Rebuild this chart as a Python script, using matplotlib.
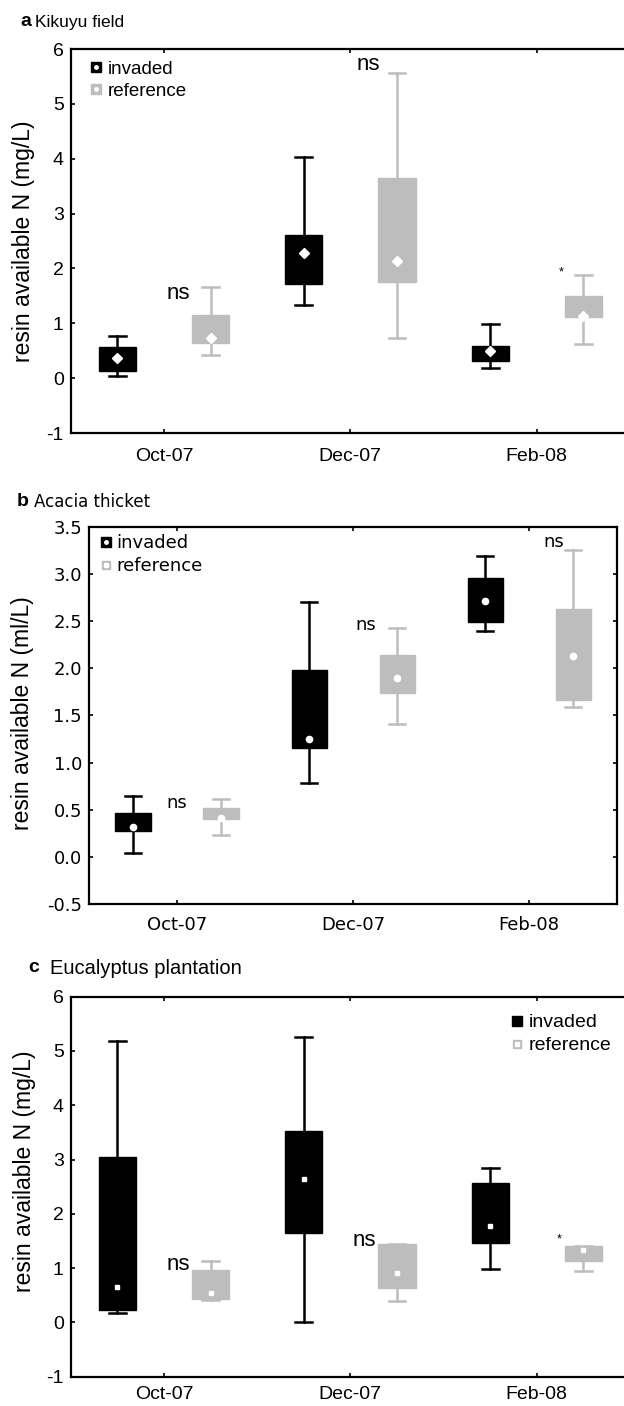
import numpy as np
import matplotlib
matplotlib.use("Agg")
import matplotlib.pyplot as plt
from matplotlib.lines import Line2D
from matplotlib.legend_handler import HandlerTuple

plt.rcParams['axes.unicode_minus'] = False

categories = ['Oct-07', 'Dec-07', 'Feb-08']

# Panel a: Kikuyu field
a_inv_lo = [0.03, 1.33, 0.18]
a_inv_q1 = [0.13, 1.72, 0.31]
a_inv_dot = [0.36, 2.28, 0.50]
a_inv_q3 = [0.56, 2.61, 0.59]
a_inv_hi = [0.76, 4.04, 0.98]
a_ref_lo = [0.43, 0.73, 0.62]
a_ref_q1 = [0.64, 1.76, 1.11]
a_ref_dot = [0.73, 2.14, 1.13]
a_ref_q3 = [1.16, 3.65, 1.49]
a_ref_hi = [1.66, 5.56, 1.88]
a_sig = ['ns', 'ns', '*']
a_sig_y = [1.54, 5.71, 1.93]
a_yticks = [-1, 0, 1, 2, 3, 4, 5, 6]

# Panel b: Acacia thicket
b_inv_lo = [0.04, 0.78, 2.39]
b_inv_q1 = [0.27, 1.15, 2.49]
b_inv_dot = [0.32, 1.25, 2.71]
b_inv_q3 = [0.47, 1.98, 2.96]
b_inv_hi = [0.65, 2.70, 3.19]
b_ref_lo = [0.23, 1.41, 1.59]
b_ref_q1 = [0.40, 1.74, 1.66]
b_ref_dot = [0.41, 1.90, 2.13]
b_ref_q3 = [0.52, 2.14, 2.63]
b_ref_hi = [0.61, 2.43, 3.25]
b_sig = ['ns', 'ns', 'ns']
b_sig_y = [0.57, 2.46, 3.34]
b_yticks = [-0.5, 0.0, 0.5, 1.0, 1.5, 2.0, 2.5, 3.0, 3.5]

# Panel c: Eucalyptus plantation
c_inv_lo = [0.17, 0.00, 0.98]
c_inv_q1 = [0.23, 1.65, 1.46]
c_inv_dot = [0.65, 2.65, 1.78]
c_inv_q3 = [3.04, 3.52, 2.57]
c_inv_hi = [5.19, 5.26, 2.85]
c_ref_lo = [0.41, 0.39, 0.95]
c_ref_q1 = [0.44, 0.63, 1.14]
c_ref_dot = [0.55, 0.91, 1.34]
c_ref_q3 = [0.96, 1.45, 1.41]
c_ref_hi = [1.14, 1.45, 1.41]
c_sig = ['ns', 'ns', '*']
c_sig_y = [1.06, 1.50, 1.52]
c_yticks = [-1, 0, 1, 2, 3, 4, 5, 6]

BLACK = '#000000'
GRAY = '#bdbdbd'
W, H = 624, 1406

fig = plt.figure(figsize=(W / 100, H / 100), dpi=100)


def axes_px(left, top, right, bottom):
    return fig.add_axes([left / W, 1 - bottom / H, (right - left) / W, (bottom - top) / H])


def draw_group(ax, pos, lo, q1, dot, q3, hi, color, ms, marker):
    stats = [dict(whislo=lo[i], q1=q1[i], med=dot[i], q3=q3[i], whishi=hi[i], fliers=[])
             for i in range(len(lo))]
    ax.bxp(stats, positions=pos, widths=0.2, capwidths=0.09, patch_artist=True,
           showfliers=False, manage_ticks=False,
           boxprops=dict(facecolor=color, edgecolor=color, linewidth=1),
           whiskerprops=dict(color=color, linewidth=1.8),
           capprops=dict(color=color, linewidth=1.8),
           medianprops=dict(visible=False))
    ax.plot(pos, dot, ls='none', marker=marker, ms=ms, mfc='white', mec='white', zorder=5)


def setup(ax, yticks, ylim, tickfont, ticksize, ylabels, xpad):
    x = np.arange(len(categories))
    ax.set_xlim(-0.5, 2.5)
    ax.set_ylim(*ylim)
    ax.set_xticks(x)
    ax.set_xticklabels(categories, fontsize=ticksize, family=tickfont)
    ax.set_yticks(yticks)
    ax.set_yticklabels(ylabels, fontsize=ticksize, family=tickfont)
    ax.tick_params(direction='in', length=3, width=1.2, top=True, right=True)
    ax.tick_params(axis='x', pad=xpad)
    ax.tick_params(axis='y', pad=5)
    for s in ax.spines.values():
        s.set_linewidth(1.6)


def panel(ax, inv, ref, sig, sig_y, sig_dx, sigfont, sigsize, ms, marker):
    x = np.arange(len(categories))
    draw_group(ax, x - 0.25, *inv, BLACK, ms, marker)
    draw_group(ax, x + 0.25, *ref, GRAY, ms, marker)
    for i in range(len(sig)):
        fs = sigsize if sig[i] == 'ns' else 9
        ax.text(x[i] + sig_dx[i], sig_y[i], sig[i], ha='center', va='center',
                fontsize=fs, family=sigfont)


def handle(color, size, inner_marker):
    sq = Line2D([], [], ls='none', marker='s', ms=size, mfc=color, mec=color)
    if inner_marker is None:
        return sq
    dot = Line2D([], [], ls='none', marker=inner_marker, ms=2.5, mfc='white', mec='white')
    return (sq, dot)


def add_legend(ax, handles, anchor, font, size):
    ax.legend(handles, ['invaded', 'reference'], handler_map={tuple: HandlerTuple(ndivide=1, pad=0)},
              loc='upper left', bbox_to_anchor=anchor, frameon=False,
              handlelength=0.6, handletextpad=0.3, labelspacing=0.28, borderpad=0, borderaxespad=0,
              prop=dict(family=font, size=size))


# ---------- Panel a ----------
axa = axes_px(70.7, 49, 630, 433)
setup(axa, a_yticks, (-1, 6), 'Liberation Sans', 14, [str(v) for v in a_yticks], 11)
panel(axa, (a_inv_lo, a_inv_q1, a_inv_dot, a_inv_q3, a_inv_hi),
      (a_ref_lo, a_ref_q1, a_ref_dot, a_ref_q3, a_ref_hi),
      a_sig, a_sig_y, [0.078, 0.098, 0.13], 'Liberation Sans', 16, 5, 'D')
add_legend(axa, [handle(BLACK, 7, 'o'), handle(GRAY, 7, 'o')], (0.036, 0.97), 'Liberation Sans', 13.5)
fig.text(24 / W, 1 - 241 / H, 'resin available N (mg/L)', rotation=90, ha='center', va='center',
         fontsize=16.5, family='Liberation Sans')
fig.text(20 / W, 1 - 22 / H, 'a', fontsize=14, fontweight='bold', family='Liberation Sans', va='center')
fig.text(35 / W, 1 - 22 / H, 'Kikuyu field', fontsize=12.5, family='Liberation Sans', va='center')

# ---------- Panel b ----------
axb = axes_px(89, 526.7, 617.3, 904)
setup(axb, b_yticks, (-0.5, 3.5), 'DejaVu Sans', 13, ['%.1f' % v for v in b_yticks], 9)
panel(axb, (b_inv_lo, b_inv_q1, b_inv_dot, b_inv_q3, b_inv_hi),
      (b_ref_lo, b_ref_q1, b_ref_dot, b_ref_q3, b_ref_hi),
      b_sig, b_sig_y, [0.0, 0.072, 0.141], 'DejaVu Sans', 13, 4.5, 'o')
add_legend(axb, [handle(BLACK, 7, 'o'), handle(GRAY, 6, 's')], (0.021, 0.98), 'DejaVu Sans', 13)
fig.text(23 / W, 1 - 713 / H, 'resin available N (ml/L)', rotation=90, ha='center', va='center',
         fontsize=16.5, family='Liberation Sans')
fig.text(17 / W, 1 - 501.7 / H, 'b', fontsize=14, fontweight='bold', family='Liberation Sans', va='center')
fig.text(34 / W, 1 - 501.7 / H, 'Acacia thicket', fontsize=12, family='DejaVu Sans', va='center')

# ---------- Panel c ----------
axc = axes_px(70.7, 996.7, 630, 1376.7)
setup(axc, c_yticks, (-1, 6), 'Liberation Sans', 14, [str(v) for v in c_yticks], 6.5)
panel(axc, (c_inv_lo, c_inv_q1, c_inv_dot, c_inv_q3, c_inv_hi),
      (c_ref_lo, c_ref_q1, c_ref_dot, c_ref_q3, c_ref_hi),
      c_sig, c_sig_y, [0.076, 0.076, 0.12], 'Liberation Sans', 16, 3, 's')
add_legend(axc, [handle(BLACK, 7, None), handle(GRAY, 6, 's')], (0.7875, 0.955), 'Liberation Sans', 14)
fig.text(25 / W, 1 - 1171 / H, 'resin available N (mg/L)', rotation=90, ha='center', va='center',
         fontsize=16.5, family='Liberation Sans')
fig.text(28 / W, 1 - 968 / H, 'c', fontsize=14, fontweight='bold', family='Liberation Sans', va='center')
fig.text(50 / W, 1 - 968 / H, 'Eucalyptus plantation', fontsize=14.5, family='Liberation Sans', va='center')

fig.savefig('out.png', dpi=100)
